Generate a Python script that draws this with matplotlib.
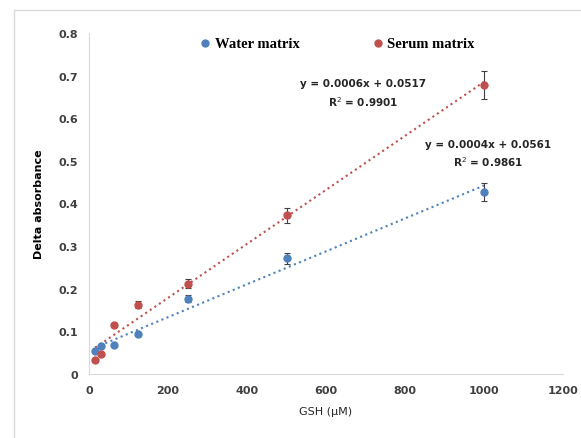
import matplotlib.pyplot as plt
import numpy as np
from matplotlib.patches import Rectangle

# GSH concentrations (uM)
gsh = [15.6, 31.25, 62.5, 125, 250, 500, 1000]

# delta absorbance, water matrix
water = [0.055, 0.066, 0.069, 0.093, 0.177, 0.272, 0.427]
water_err = [0.004, 0.004, 0.004, 0.005, 0.008, 0.013, 0.021]

# delta absorbance, serum matrix
serum = [0.033, 0.046, 0.115, 0.163, 0.212, 0.372, 0.679]
serum_err = [0.003, 0.004, 0.005, 0.009, 0.010, 0.018, 0.033]

water_eq = ["y = 0.0004x + 0.0561", "R$^{2}$ = 0.9861"]
serum_eq = ["y = 0.0006x + 0.0517", "R$^{2}$ = 0.9901"]

blue = "#4F81BD"
red = "#C0504D"

fig = plt.figure(figsize=(5.81, 4.39), dpi=100)
fig.patches.append(Rectangle((14 / 581, -0.1), 1.2, (439 - 11) / 439 + 0.1,
                             transform=fig.transFigure, fill=False,
                             edgecolor="#D9D9D9", linewidth=1))
ax = fig.add_axes([89 / 581, 64 / 439, 474 / 581, 341 / 439])

x = np.array(gsh)
for y, err, c in [(water, water_err, blue), (serum, serum_err, red)]:
    ax.errorbar(gsh, y, yerr=err, fmt="o", color=c, ms=5,
                ecolor="#404040", elinewidth=0.8, capsize=2.5, capthick=0.8,
                zorder=3)
    k, b = np.polyfit(x, y, 1)
    xs = np.array([x.min(), x.max()])
    ax.plot(xs, k * xs + b, ":", color=c, lw=1.5, zorder=2)

ax.set_xlim(0, 1200)
ax.set_ylim(0, 0.8)
ax.set_xticks(np.arange(0, 1201, 200))
ax.set_yticks(np.arange(0, 0.81, 0.1))
ax.set_yticklabels(["0"] + ["%.1f" % v for v in np.arange(0.1, 0.81, 0.1)])
ax.tick_params(length=0, labelsize=8, labelcolor="#404040", pad=8)
for lbl in ax.get_xticklabels() + ax.get_yticklabels():
    lbl.set_fontweight("bold")
for s in ["top", "right"]:
    ax.spines[s].set_visible(False)
for s in ["left", "bottom"]:
    ax.spines[s].set_color("#D9D9D9")

ax.set_xlabel("GSH (\u00b5M)", fontsize=8, color="#262626", labelpad=8)
ax.set_ylabel("Delta absorbance", fontsize=8, fontweight="bold", labelpad=10)

# legend drawn as marker + label like the Excel header
ax.plot([0.245], [0.97], "o", color=blue, ms=5, transform=ax.transAxes, clip_on=False)
ax.text(0.265, 0.97, "Water matrix", transform=ax.transAxes, va="center",
        fontsize=10.5, fontweight="bold", family="Liberation Serif")
ax.plot([0.61], [0.97], "o", color=red, ms=5, transform=ax.transAxes, clip_on=False)
ax.text(0.628, 0.97, "Serum matrix", transform=ax.transAxes, va="center",
        fontsize=10.5, fontweight="bold", family="Liberation Serif")

ax.text(694, 0.66, "\n".join(serum_eq), ha="center", va="center",
        fontsize=7.5, fontweight="bold", color="#262626", linespacing=1.5)
ax.text(1010, 0.517, "\n".join(water_eq), ha="center", va="center",
        fontsize=7.5, fontweight="bold", color="#262626", linespacing=1.5)

fig.savefig("out.png", dpi=100)
